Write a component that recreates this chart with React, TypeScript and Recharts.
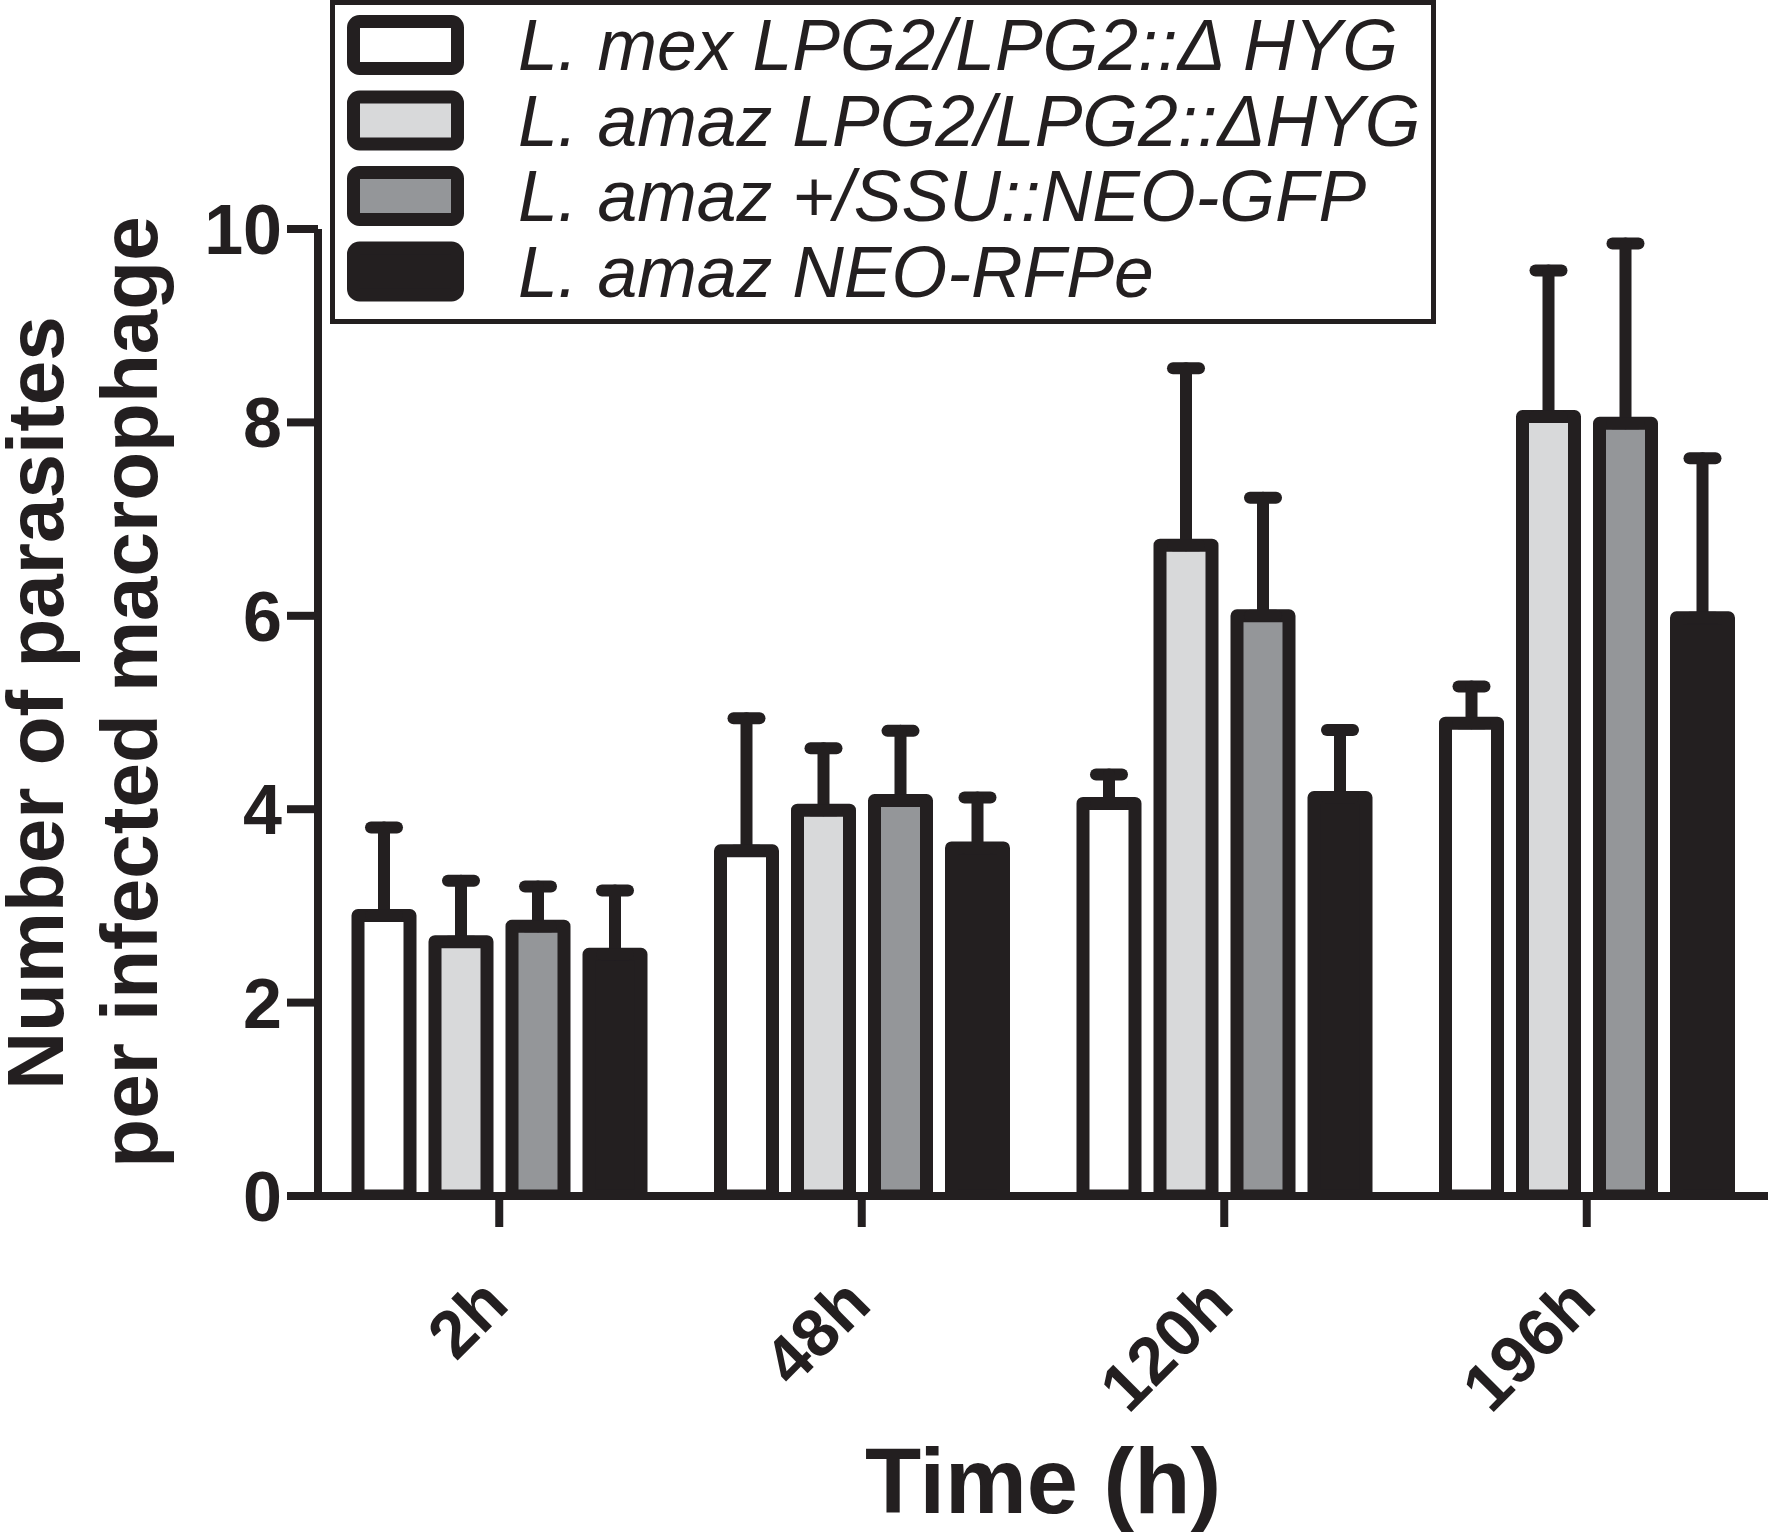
import React from 'react';
import { BarChart, Bar, XAxis, YAxis, ErrorBar, Legend } from 'recharts';

const categories = ['2h', '48h', '120h', '196h'];

const seriesNames = [
  'L. mex LPG2/LPG2::Δ HYG',
  'L. amaz LPG2/LPG2::ΔHYG',
  'L. amaz +/SSU::NEO-GFP',
  'L. amaz NEO-RFPe',
];

const seriesFills = ['#ffffff', '#d8d9da', '#949699', '#231f20'];

// mean values per time point
const lmexHyg = [2.9, 3.57, 4.06, 4.89];
const lamazHyg = [2.63, 3.99, 6.73, 8.06];
const lamazGfp = [2.79, 4.09, 6.0, 7.99];
const lamazRfp = [2.5, 3.6, 4.12, 5.98];

// upper error (SD) per time point
const lmexHygErr = [0.91, 1.37, 0.3, 0.38];
const lamazHygErr = [0.63, 0.64, 1.83, 1.51];
const lamazGfpErr = [0.41, 0.72, 1.22, 1.86];
const lamazRfpErr = [0.66, 0.52, 0.7, 1.65];

const yTicks = [0, 2, 4, 6, 8, 10];

const means = [lmexHyg, lamazHyg, lamazGfp, lamazRfp];
const errors = [lmexHygErr, lamazHygErr, lamazGfpErr, lamazRfpErr];

const data = categories.map((time, i) => {
  const row: Record<string, unknown> = { time };
  means.forEach((m, s) => {
    row[`s${s}`] = m[i];
    row[`e${s}`] = [0, errors[s][i]];
  });
  return row;
});

const INK = '#231f20';
const FONT = '"Liberation Sans", Arial, Helvetica, sans-serif';

const YTick = ({ x, y, payload }: any) => (
  <text x={x - 3} y={y + 25} textAnchor="end" fontFamily={FONT} fontWeight="bold" fontSize={70} fill={INK}>
    {payload.value}
  </text>
);

const XTick = ({ x, y, payload }: any) => (
  <text
    transform={`translate(${x + 12}, ${y + 78}) rotate(-45)`}
    textAnchor="end"
    fontFamily={FONT}
    fontWeight="bold"
    fontSize={67}
    fill={INK}
  >
    {payload.value}
  </text>
);

const LegendBox = () => (
  <svg width={1106} height={324} style={{ display: 'block' }}>
    <rect x={2.5} y={2.5} width={1101} height={319} fill="#fff" stroke={INK} strokeWidth={5} />
    {seriesNames.map((name, i) => {
      const cy = 45 + i * 75.5;
      return (
        <g key={name}>
          <rect
            x={23.5}
            y={cy - 23.5}
            width={104}
            height={47}
            rx={6}
            fill={seriesFills[i]}
            stroke={INK}
            strokeWidth={13}
            strokeLinejoin="round"
          />
          <text x={188} y={cy + 25} fontFamily={FONT} fontStyle="italic" fontSize={71.5} fill={INK}>
            {name}
          </text>
        </g>
      );
    })}
  </svg>
);

const YLabel = () => (
  <g fontFamily={FONT} fontWeight="bold" fontSize={80} fill={INK}>
    <text transform="translate(63, 703) rotate(-90)" textAnchor="middle">
      Number of parasites
    </text>
    <text transform="translate(157, 692) rotate(-90)" textAnchor="middle">
      per infected macrophage
    </text>
  </g>
);

const XLabel = () => (
  <text x={1043} y={1513} textAnchor="middle" fontFamily={FONT} fontWeight="bold" fontSize={92} fill={INK}>
    Time (h)
  </text>
);

export default function App() {
  return (
    <div style={{ position: 'absolute', left: 0, top: 0, width: 1772, height: 1534, background: '#fff' }}>
      <BarChart
        width={1772}
        height={1534}
        data={data}
        margin={{ top: 229, right: 4, left: 0, bottom: 0 }}
        barSize={52}
        barGap={25}
      >
        <XAxis
          dataKey="time"
          height={338}
          tickSize={31}
          tick={XTick}
          axisLine={{ stroke: INK, strokeWidth: 8 }}
          tickLine={{ stroke: INK, strokeWidth: 8 }}
          label={{ content: XLabel }}
        />
        <YAxis
          width={318}
          domain={[0, 10]}
          ticks={yTicks}
          allowDataOverflow
          tickSize={31}
          tick={YTick}
          axisLine={{ stroke: INK, strokeWidth: 8 }}
          tickLine={{ stroke: INK, strokeWidth: 8 }}
          label={{ content: YLabel }}
        />
        <Legend
          layout="vertical"
          align="center"
          verticalAlign="middle"
          content={LegendBox}
          wrapperStyle={{ left: 330, top: 0, width: 1106, height: 324 }}
        />
        {means.map((_, s) => (
          <Bar
            key={s}
            dataKey={`s${s}`}
            name={seriesNames[s]}
            fill={seriesFills[s]}
            stroke={INK}
            strokeWidth={13}
            strokeLinejoin="round"
            isAnimationActive={false}
          >
            <ErrorBar
              dataKey={`e${s}`}
              width={13}
              stroke={INK}
              strokeWidth={12}
              strokeLinecap="round"
              isAnimationActive={false}
            />
          </Bar>
        ))}
      </BarChart>
    </div>
  );
}
